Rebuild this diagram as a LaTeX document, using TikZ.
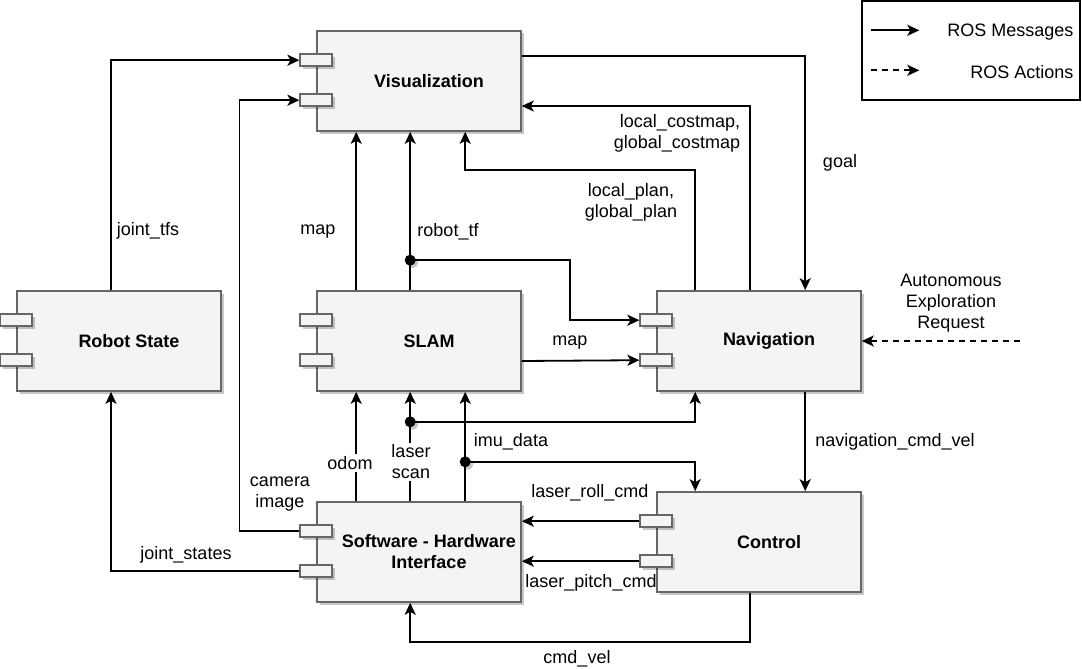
\documentclass[tikz,border=0pt]{standalone}
\usepackage{fontspec}
\setmainfont{Liberation Sans}
\usetikzlibrary{arrows.meta,calc,shadows}
\definecolor{boxfill}{HTML}{F4F4F4}
\definecolor{boxline}{HTML}{666666}

\begin{document}
\begin{tikzpicture}[x=1pt,y=-1pt,
  font=\fontsize{18}{21}\selectfont,
  softshadow/.style={drop shadow={shadow xshift=2.5pt,shadow yshift=-2.5pt,opacity=0.22,fill=black}},
  comp/.style={draw=boxline, fill=boxfill, line width=1.6pt,
    minimum width=204pt, minimum height=100pt, inner sep=0pt, softshadow,
    label={[xshift=10pt,font=\fontsize{18}{21}\selectfont\bfseries,align=center]center:{#1}}},
  port/.style={draw=boxline, fill=boxfill, line width=1.6pt,
    minimum width=32pt, minimum height=12pt, inner sep=0pt, softshadow},
  junction/.style={circle, fill=black, minimum size=11pt, inner sep=0pt, softshadow},
  msg/.style={line width=1.8pt, -{Stealth[length=12pt,width=11pt,inset=3pt]}},
  act/.style={msg, dash pattern=on 6pt off 5pt},
  lbl/.style={inner sep=0pt, align=center, yshift=-2pt},
  lblw/.style={lbl, fill=white, inner ysep=2pt}
]
\useasboundingbox (0,0) rectangle (1082,669);

% components
\node[comp=Visualization] (vis) at (419,81) {};
\node[comp=SLAM] (slam) at (419,341) {};
\node[comp=Robot State] (rs) at (119,341) {};
\node[comp=Navigation] (nav) at (759,341) {};
\node[comp=Control] (ctrl) at (759,542) {};
\node[comp={Software - Hardware\\Interface}] (sw) at (419,552) {};

% component ports
\foreach \b in {vis,slam,rs,nav,ctrl,sw} {
  \node[port] (\b-p1) at ($(\b.north west)+(0,30)$) {};
  \node[port] (\b-p2) at ($(\b.north west)+(0,70)$) {};
}

% branch points
\coordinate (d1) at ($(slam.north west)+(94,-30)$);
\coordinate (d2) at ($(slam.south west)+(94,30)$);
\coordinate (d3) at ($(slam.south west)+(149,70)$);

% robot state links
\draw[msg] ([xshift=-8pt]rs.north) |- (vis-p1.west);
\draw[msg] (sw-p1.west) -- ++(-60,0) |- (vis-p2.west);
\draw[msg] (sw-p2.west) -| ([xshift=-8pt]rs.south);

% SLAM outputs
\draw[msg] ([xshift=40pt]slam.north west) -- ([xshift=40pt]vis.south west);
\draw[msg] ([xshift=94pt]slam.north west) -- ([xshift=94pt]vis.south west);
\draw[msg] (d1) -- ++(160,0) |- (nav-p1.west);
\draw[msg] ([yshift=-20pt]slam.east) -- (nav-p2.west);

% navigation <-> visualization
\draw[msg] ([xshift=39pt]nav.north west) -- ++(0,-120) -| ([xshift=149pt]vis.south west);
\draw[msg] ([xshift=94pt]nav.north west) |- ([yshift=-25pt]vis.east);
\draw[msg] ([yshift=25pt]vis.east) -| ([xshift=149pt]nav.north west);

% exploration request
\coordinate (req) at (1020,341);
\draw[act] (req) -- (nav.east);

% hardware interface outputs
\draw[msg] ([xshift=40pt]sw.north west) -- ([xshift=40pt]slam.south west);
\draw[msg] ([xshift=94pt]sw.north west) -- ([xshift=94pt]slam.south west);
\draw[msg] (d2) -| ([xshift=39pt]nav.south west);
\draw[msg] ([xshift=149pt]sw.north west) -- ([xshift=149pt]slam.south west);
\draw[msg] (d3) -| ([xshift=39pt]ctrl.north west);

% control links
\draw[msg] ([xshift=149pt]nav.south west) -- ([xshift=149pt]ctrl.north west);
\draw[msg] (ctrl-p1.west) -- (ctrl-p1.west -| sw.east);
\draw[msg] (ctrl-p2.west) -- (ctrl-p2.west -| sw.east);
\draw[msg] ([xshift=94pt]ctrl.south west) -- ++(0,49) -| ([xshift=94pt]sw.south west);

% junction dots
\foreach \d in {d1,d2,d3} \node[junction] at (\d) {};

% topic labels
\node[lbl] (t-jtfs) at (148,229) {joint\_tfs};
\node[lbl] (t-cam) at (280,492) {camera\\image};
\node[lbl] (t-jst) at (186,553) {joint\_states};
\node[lbl] (t-map1) at (318,230) {map};
\node[lbl] (t-rtf) at (448,230) {robot\_tf};
\node[lbl] (t-map2) at (570,341) {map};
\node[lbl] (t-plan) at (631,200) {local\_plan,\\global\_plan};
\node[lbl, align=right] (t-cost) at (677,131) {local\_costmap,\\global\_costmap};
\node[lbl] (t-goal) at (840,161) {goal};
\node[lbl] (t-req) at (951,301) {Autonomous\\Exploration\\Request};
\node[lblw] (t-odom) at (350,461) {odom};
\node[lblw] (t-scan) at (411,460) {laser\\scan};
\node[lbl] (t-imu) at (511,440) {imu\_data};
\node[lbl] (t-ncv) at (895,440) {navigation\_cmd\_vel};
\node[lbl] (t-roll) at (590,491) {laser\_roll\_cmd};
\node[lbl] (t-pitch) at (591,581) {laser\_pitch\_cmd};
\node[lbl] (t-cmd) at (577,657) {cmd\_vel};

% legend
\node[draw=black, line width=1.4pt, minimum width=218pt, minimum height=99pt, inner sep=0pt] (legend) at (971,50.5) {};
\coordinate (lm1) at ($(legend.north west)+(10,30)$);
\coordinate (lm2) at ($(legend.north west)+(58,30)$);
\coordinate (la1) at ($(legend.north west)+(10,70)$);
\coordinate (la2) at ($(legend.north west)+(58,70)$);
\draw[msg] (lm1) -- (lm2);
\draw[act] (la1) -- (la2);
\node[lbl, anchor=east] (l-msg) at ($(legend.north east)+(-7,30)$) {ROS Messages};
\node[lbl, anchor=east] (l-act) at ($(legend.north east)+(-7,70)$) {ROS Actions};
\end{tikzpicture}
\end{document}
